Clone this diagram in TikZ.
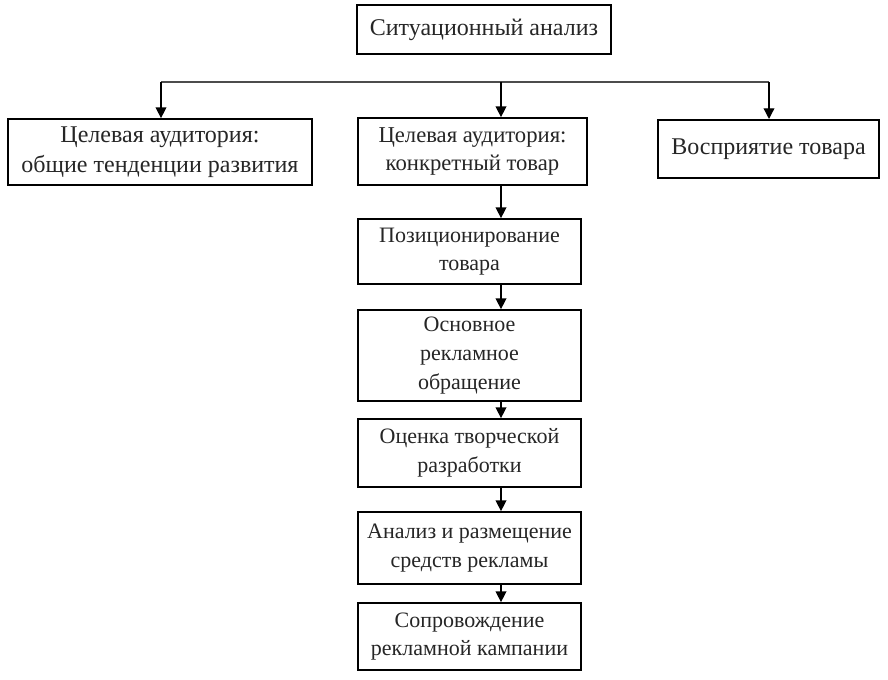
\documentclass[tikz,border=0pt]{standalone}
\usepackage{fontspec}
\setmainfont{Liberation Serif}
\usetikzlibrary{arrows.meta}
\tikzset{
  box/.style={draw=black, line width=1.3pt, fill=white, align=center, inner sep=1pt,
    font=\fontsize{16.5}{21.5}\selectfont, text=black!85},
  big/.style={font=\fontsize{18}{22.5}\selectfont},
  arr/.style={line width=1pt, -{Triangle[length=8pt,width=8pt]}},
  hline/.style={line width=1pt, draw=black!70},
}
\begin{document}
\begin{tikzpicture}[x=0.75pt,y=-0.75pt]
\fill[white] (0,0) rectangle (888,680);
\useasboundingbox (0,0) rectangle (888,680);
\node[box, big, minimum width=190.5pt, minimum height=36.75pt] (b1) at (484,29.5) {Ситуационный анализ};
\node[box, big, minimum width=228pt, minimum height=49.5pt] (b2) at (160,152) {Целевая аудитория:\\общие тенденции развития};
\node[box, font=\fontsize{17}{21.5}\selectfont, minimum width=171.75pt, minimum height=50.25pt] (b3) at (472.5,151.5) {Целевая аудитория:\\конкретный товар};
\node[box, big, minimum width=165.75pt, minimum height=43.5pt, anchor=north] (b4) at (768.5,119) {\strut Восприятие товара};
\node[box, minimum width=167.25pt, minimum height=48.75pt] (b5) at (469.5,251.5) {Позиционирование\\товара};
\node[box, minimum width=167.25pt, minimum height=68.25pt] (b6) at (469.5,355.5) {Основное\\рекламное\\обращение};
\node[box, minimum width=167.25pt, minimum height=51pt] (b7) at (469.5,453) {Оценка творческой\\разработки};
\node[box, minimum width=167.25pt, minimum height=54pt] (b8) at (469.5,548) {Анализ и размещение\\средств рекламы};
\node[box, minimum width=167.25pt, minimum height=50.25pt] (b9) at (469.5,636.5) {Сопровождение\\рекламной кампании};
\coordinate (hl) at (161,82);
\coordinate (hm) at (501,82);
\coordinate (hr) at (769,82);
\coordinate (col) at (501,0);
\draw[hline] (hl) -- (hr);
\draw[arr] (hl) -- (hl |- b2.north);
\draw[arr] (hm) -- (hm |- b3.north);
\draw[arr] (hr) -- (hr |- b4.north);
\draw[arr] (b3.south -| col) -- (b5.north -| col);
\draw[arr] (b5.south -| col) -- (b6.north -| col);
\draw[arr] (b6.south -| col) -- (b7.north -| col);
\draw[arr] (b7.south -| col) -- (b8.north -| col);
\draw[arr] (b8.south -| col) -- (b9.north -| col);
\end{tikzpicture}
\end{document}
